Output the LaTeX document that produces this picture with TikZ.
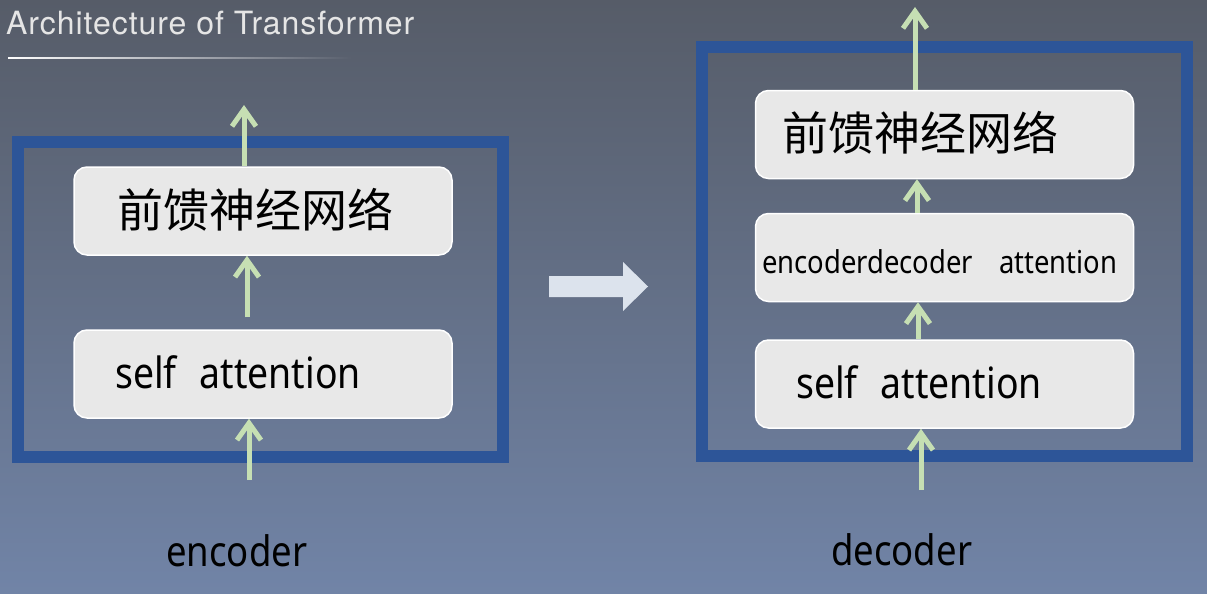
\documentclass[tikz,border=0pt]{standalone}
\usepackage{fontspec}
\usetikzlibrary{arrows.meta,fadings}
\newfontfamily\latf[FakeStretch=0.87]{Noto Sans}
\newfontfamily\cjkf{Noto Sans CJK SC}
\newfontfamily\titlef[LetterSpace=3]{TeX Gyre Heros}
\definecolor{bgtop}{HTML}{565C68}
\definecolor{bgbot}{HTML}{7184A7}
\definecolor{frameblue}{HTML}{2D5598}
\definecolor{boxfill}{HTML}{E8E8E8}
\definecolor{arrgreen}{HTML}{C6DFB3}
\definecolor{bigarr}{HTML}{DCE3ED}
\tikzset{
  boxnode/.style={draw=white, line width=1.5pt, fill=boxfill, rounded corners=13pt,
    minimum width=378pt, minimum height=88pt, inner sep=0pt},
  framebox/.style={draw=frameblue, line width=12pt},
  arr/.style={draw=arrgreen, line width=5pt,
    -{Straight Barb[length=17pt,width=24pt,line width=5pt]}},
  cjktext/.style={inner sep=0pt, anchor=west, font=\cjkf\fontsize{46}{50}\selectfont, text=black},
  lattext/.style={inner sep=0pt, anchor=base west, text=black},
}
\begin{document}
\begin{tikzpicture}[x=1pt,y=-1pt]
\useasboundingbox (0,0) rectangle (1207,594);
\fill[top color=bgtop, bottom color=bgbot] (0,0) rectangle (1207,594);
% title
\node[lattext, text=white!90!black, font=\titlef\fontsize{32}{36}\selectfont] (title) at (6,35) {Architecture of Transformer};
\fill[white, path fading=east] (8,57) rectangle (352,59.5);
% frames
\draw[framebox] (18,142) rectangle (503,457);
\draw[framebox] (702,47) rectangle (1187,456);
% encoder boxes
\node[boxnode] (eF) at (263,211) {};
\node[boxnode] (eS) at (263,374) {};
\node[cjktext] (eFt) at (117,210) {前馈神经网络};
\node[lattext, font=\latf\fontsize{43}{50}\selectfont] (eSt) at (115,388) {self\hspace{23pt}attention};
% decoder boxes
\node[boxnode] (dF) at (944.5,134.5) {};
\node[boxnode] (dE) at (944.5,257.5) {};
\node[boxnode] (dS) at (944.5,384) {};
\node[cjktext] (dFt) at (782,133) {前馈神经网络};
\node[lattext, font=\latf\fontsize{31.5}{36}\selectfont] (dEt) at (762,273) {encoderdecoder\hspace{26pt}attention};
\node[lattext, font=\latf\fontsize{43}{50}\selectfont] (dSt) at (796,398) {self\hspace{23pt}attention};
% labels
\node[lattext, font=\latf\fontsize{42}{50}\selectfont] (encl) at (166,566) {encoder};
\node[lattext, font=\latf\fontsize{42}{50}\selectfont] (decl) at (831,565) {decoder};
% encoder arrows
\coordinate (ein) at (249,480);
\coordinate (eout) at (244,105);
\draw[arr] (ein) -- (ein |- eS.south);
\draw[arr] ([xshift=-16pt,yshift=12pt]eS.north) -- ([xshift=-16pt]eF.south);
\draw[arr] (eout |- eF.north) -- (eout);
% decoder arrows
\coordinate (din) at (921,490);
\coordinate (dout) at (915,7);
\draw[arr] (din) -- (din |- dS.south);
\draw[arr] ([xshift=-26.5pt]dS.north) -- ([xshift=-26.5pt]dE.south);
\draw[arr] ([xshift=-27.5pt]dE.north) -- ([xshift=-27.5pt]dF.south);
\draw[arr] (dout |- dF.north) -- (dout);
% big arrow
\fill[bigarr] (549,276) -- (623,276) -- (623,262) -- (648,286.5) -- (623,311) -- (623,297) -- (549,297) -- cycle;
\end{tikzpicture}
\end{document}
